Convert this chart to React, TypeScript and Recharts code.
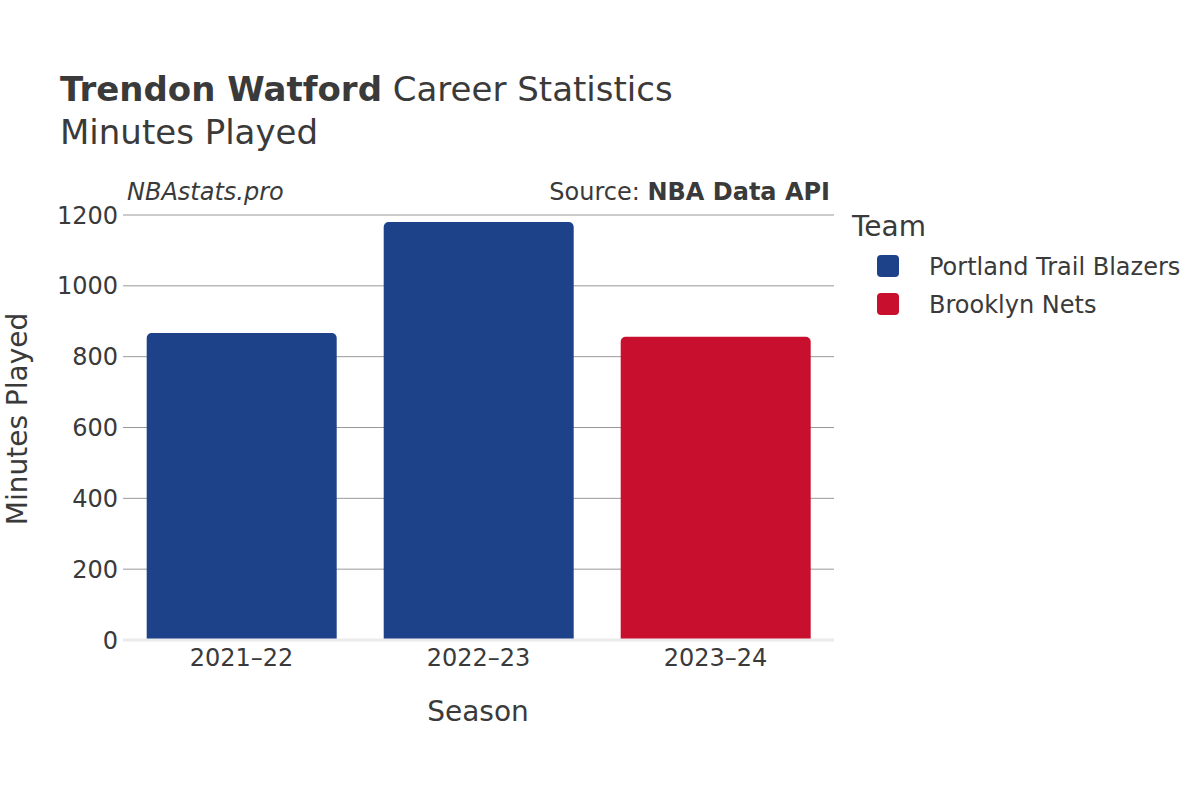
import { Bar, BarChart, CartesianGrid, XAxis, YAxis } from 'recharts'

const seasons = ['2021–22', '2022–23', '2023–24']
const portland = [867, 1180, null]
const brooklyn = [null, null, 856]
const yTicks = [0, 200, 400, 600, 800, 1000, 1200]

const teams = [
  { name: 'Portland Trail Blazers', color: '#1d428a' },
  { name: 'Brooklyn Nets', color: '#c8102e' },
]

const FONT = '"DejaVu Sans", Verdana, sans-serif'
const INK = '#3a3a3a'

const data = seasons.map((season, i) => ({
  season,
  portland: portland[i],
  brooklyn: brooklyn[i],
}))

export default function App() {
  return (
    <div style={{ position: 'absolute', left: 0, top: 0, width: 1200, height: 800, background: '#fff', fontFamily: FONT }}>
      <BarChart
        width={1200}
        height={800}
        data={data}
        margin={{ top: 215, right: 366, bottom: 130, left: 0 }}
        barCategoryGap="10%"
      >
        <CartesianGrid vertical={false} stroke="#999" strokeWidth={1} />
        <XAxis
          dataKey="season"
          height={30}
          tickLine={false}
          tickSize={0}
          tickMargin={9}
          axisLine={{ stroke: '#ebebeb', strokeWidth: 3 }}
          tick={{ fontSize: 24, fill: INK, fontFamily: FONT }}
        />
        <YAxis
          width={123}
          domain={[0, 1200]}
          ticks={yTicks}
          interval={0}
          axisLine={false}
          tickLine={false}
          tickSize={0}
          tickMargin={5}
          tick={{ fontSize: 24, fill: INK, fontFamily: FONT }}
        />
        <Bar dataKey="portland" stackId="a" fill={teams[0].color} radius={[5, 5, 0, 0]} isAnimationActive={false} />
        <Bar dataKey="brooklyn" stackId="a" fill={teams[1].color} radius={[5, 5, 0, 0]} isAnimationActive={false} />
      </BarChart>

      <svg width={1200} height={800} style={{ position: 'absolute', left: 0, top: 0, pointerEvents: 'none' }}>
        <text x={60} y={101} fontSize={34} fill={INK} fontFamily={FONT}>
          <tspan fontWeight="bold">Trendon Watford</tspan>
          <tspan> Career Statistics</tspan>
        </text>
        <text x={60} y={144} fontSize={34} fill={INK} fontFamily={FONT}>Minutes Played</text>
        <text x={127} y={200} fontSize={24} fill={INK} fontStyle="italic" fontFamily={FONT}>NBAstats.pro</text>
        <text x={830} y={200} fontSize={24} fill={INK} textAnchor="end" fontFamily={FONT}>
          <tspan>Source: </tspan>
          <tspan fontWeight="bold">NBA Data API</tspan>
        </text>
        <text x={478} y={721} fontSize={28} fill={INK} textAnchor="middle" fontFamily={FONT}>Season</text>
        <text
          x={0}
          y={0}
          fontSize={28}
          fill={INK}
          textAnchor="middle"
          fontFamily={FONT}
          transform="translate(27,419) rotate(-90)"
        >
          Minutes Played
        </text>
        <text x={852} y={236} fontSize={28} fill={INK} fontFamily={FONT}>Team</text>
        {teams.map((t, i) => (
          <g key={t.name}>
            <rect x={877} y={255 + i * 38} width={22} height={22} rx={4} fill={t.color} />
            <text x={929} y={275 + i * 38} fontSize={24} fill={INK} fontFamily={FONT}>{t.name}</text>
          </g>
        ))}
      </svg>
    </div>
  )
}
